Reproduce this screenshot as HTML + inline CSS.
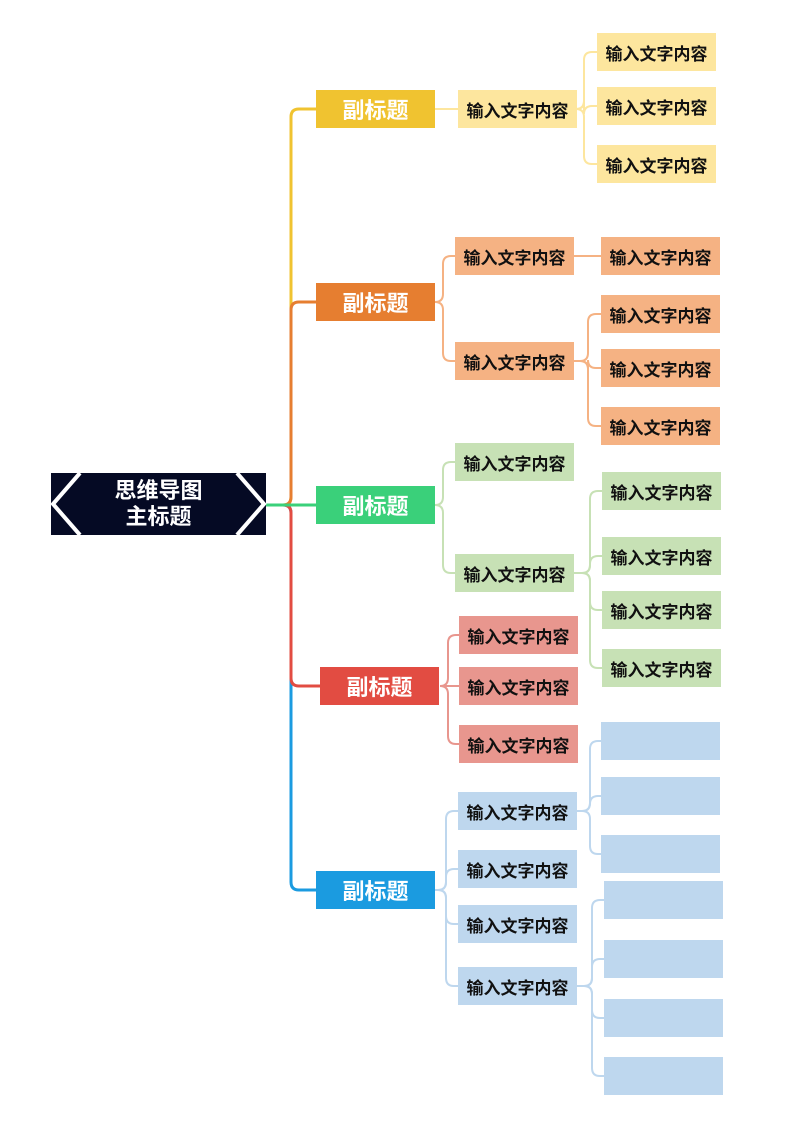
<!DOCTYPE html>
<html><head><meta charset="utf-8"><style>
body{margin:0;width:800px;height:1131px;background:#fff;position:relative;overflow:hidden;font-family:"Liberation Sans","Noto Sans CJK SC",sans-serif}
.b{position:absolute;display:flex;align-items:center;justify-content:center;font-weight:bold;box-sizing:border-box;white-space:nowrap}
.s{width:119px;height:38px;color:#fff;font-size:22px}
.t{width:119px;height:38px;color:#111;font-size:17px}
svg{position:absolute;left:0;top:0}
</style></head><body>
<svg id="sv" width="800" height="1131"></svg>
<div class="b" style="left:51px;top:473px;width:215px;height:62px;background:#050a24;color:#fff;font-size:22px;line-height:26px;text-align:center">思维导图<br>主标题</div>
<svg width="800" height="1131" style="pointer-events:none">
<polyline points="80,473 53,504 80,535" fill="none" stroke="#fff" stroke-width="4"/>
<polyline points="237,473 264,504 237,535" fill="none" stroke="#fff" stroke-width="4"/>
</svg>
<div id="boxes"></div>
<script>
var sv=document.getElementById('sv'),bx=document.getElementById('boxes'),h='',p='';
function box(cls,x,cy,bg,txt,w){h+='<div class="b '+cls+'" style="left:'+x+'px;top:'+(cy-19)+'px;background:'+bg+(w?';width:'+w+'px':'')+'">'+txt+'</div>';}
function con(px,py,b,cx,cy,col,sw){var r=8,d;
 if(Math.abs(cy-py)<2){d='M'+px+' '+py+' H'+cx;}
 else{var s=cy>py?1:-1;d='M'+px+' '+py+' H'+(b-r)+' Q'+b+' '+py+' '+b+' '+(py+s*r)+' V'+(cy-s*r)+' Q'+b+' '+cy+' '+(b+r)+' '+cy+' H'+cx;}
 p+='<path d="'+d+'" fill="none" stroke="'+col+'" stroke-width="'+sw+'"/>';}
var T='输入文字内容';
var subs=[[316,109,'#f0c330'],[316,302,'#e67e30'],[316,505,'#3ad07a'],[320,686,'#e24c42'],[316,890,'#1b9be0']];
[0,4,1,3,2].forEach(function(i){var s=subs[i];con(266,505,291,s[0],s[1],s[2],3);});
subs.forEach(function(s){box('s',s[0],s[1],s[2],'副标题');});
function grp(px,py,b,x,cys,col,txt){cys.forEach(function(c){con(px,py,b,x,c,col,2);box('t',x,c,col,txt);});}
var Y='#fde69e';grp(435,109,447,458,[109],Y,T);grp(577,109,584,597,[52,106,164],Y,T);
var O='#f5b283';grp(435,302,443,455,[256,361],O,T);grp(574,256,588,601,[256],O,T);grp(574,361,588,601,[314,368,426],O,T);
var G='#c7e1b5';grp(435,505,443,455,[462,573],G,T);grp(574,573,590,602,[491,556,610,668],G,T);
var R='#e8968e';grp(440,686,448,459,[635,686,744],R,T);
var B='#bed7ee';grp(435,890,446,458,[811,869,924,986],B,T);grp(577,811,590,601,[741,796,854],B,'');grp(577,986,592,604,[900,959,1018,1076],B,'');
sv.innerHTML=p;bx.innerHTML=h;
</script>
</body></html>
